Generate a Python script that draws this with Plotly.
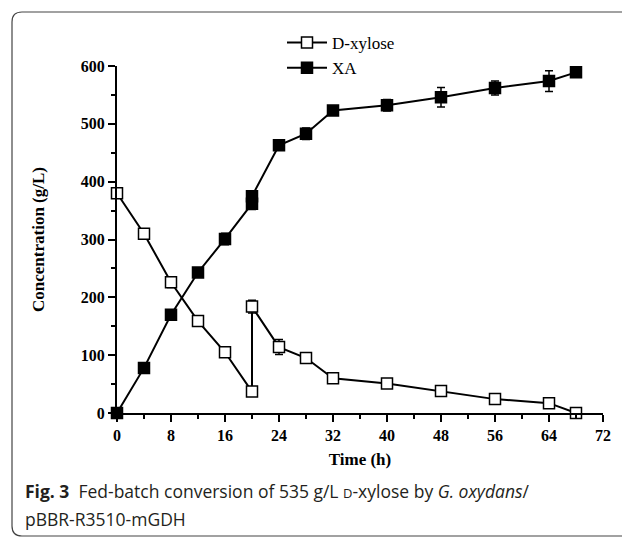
import plotly.graph_objects as go

# time points (h) and measured values (g/L)
time_xylose = [0, 4, 8, 12, 16, 20, 20, 24, 28, 32, 40, 48, 56, 64, 68]
xylose = [380, 310, 226, 159, 105, 37, 184, 114, 95, 60, 51, 38, 24, 17, 0]
xylose_err = [0, 8, 9, 3, 5, 7, 11, 13, 8, 5, 7, 6, 6, 7, 0]

time_xa = [0, 4, 8, 12, 16, 20, 20, 24, 28, 32, 40, 48, 56, 64, 68]
xa = [0, 78, 170, 243, 301, 362, 375, 463, 483, 523, 532, 546, 562, 574, 589]
xa_err = [0, 3, 5, 5, 10, 10, 8, 8, 10, 5, 10, 17, 12, 18, 8]

# plot area in pixels (622 x 537 canvas)
L, R, T, B = 117, 19, 66, 124
W, H = 622 - L - R, 537 - T - B

SERIF = "Liberation Serif"


def px_x(p):
    return (p - L) / W


def px_y(p):
    return (537 - B - p) / H


fig = go.Figure()

fig.add_trace(
    go.Scatter(
        name="D-xylose",
        x=time_xylose,
        y=xylose,
        mode="lines+markers",
        line=dict(color="black", width=2),
        marker=dict(symbol="square", size=11, color="white",
                    line=dict(color="black", width=1.5)),
        error_y=dict(type="data", array=xylose_err, color="black",
                     thickness=1.5, width=4),
        cliponaxis=False,
    )
)
fig.add_trace(
    go.Scatter(
        name="XA",
        x=time_xa,
        y=xa,
        mode="lines+markers",
        line=dict(color="black", width=2),
        marker=dict(symbol="square", size=11, color="black",
                    line=dict(color="black", width=1.5)),
        error_y=dict(type="data", array=xa_err, color="black",
                     thickness=1.5, width=4),
        cliponaxis=False,
    )
)

# rounded frame around figure + caption
x0, x1 = px_x(12), px_x(660)
y0, y1 = px_y(536), px_y(12)
rx, ry = 10 / W, 10 / H
frame = (
    f"M {x0 + rx},{y1} L {x1 - rx},{y1} Q {x1},{y1} {x1},{y1 - ry} "
    f"L {x1},{y0 + ry} Q {x1},{y0} {x1 - rx},{y0} "
    f"L {x0 + rx},{y0} Q {x0},{y0} {x0},{y0 + ry} "
    f"L {x0},{y1 - ry} Q {x0},{y1} {x0 + rx},{y1} Z"
)
fig.add_shape(type="path", path=frame, xref="paper", yref="paper",
              line=dict(color="#444", width=1.2))

cap_font = dict(family="Open Sans", size=17.5, color="#231f20")
fig.add_annotation(
    text="<b>Fig. 3</b>\u00a0\u00a0Fed-batch conversion of 535 g/L "
         "<span style='font-size:13px'>D</span>-xylose by <i>G. oxydans</i>/",
    xref="paper", yref="paper", x=px_x(23), y=px_y(491),
    xanchor="left", yanchor="middle", showarrow=False, font=cap_font,
)
fig.add_annotation(
    text="pBBR-R3510-mGDH",
    xref="paper", yref="paper", x=px_x(23), y=px_y(519),
    xanchor="left", yanchor="middle", showarrow=False, font=cap_font,
)

axis_common = dict(
    showline=True, linecolor="black", linewidth=2,
    ticks="outside", ticklen=7, tickwidth=2, tickcolor="black",
    showgrid=False, zeroline=False,
    tickfont=dict(family=SERIF, size=16, color="black", weight="bold"),
)

fig.update_layout(
    width=622,
    height=537,
    margin=dict(l=L, r=R, t=T, b=B),
    paper_bgcolor="white",
    plot_bgcolor="white",
    font=dict(family=SERIF, color="black"),
    xaxis=dict(
        **axis_common,
        range=[0, 72], dtick=8, tick0=0,
        minor=dict(dtick=4, ticks="outside", ticklen=4, tickwidth=2, tickcolor="black"),
        title=dict(text="<b>Time (h)</b>", font=dict(family=SERIF, size=17), standoff=10),
    ),
    yaxis=dict(
        **axis_common,
        range=[0, 600], dtick=100, tick0=0,
        minor=dict(dtick=50, ticks="outside", ticklen=4, tickwidth=2, tickcolor="black"),
        title=dict(text="<b>Concentration (g/L)</b>", font=dict(family=SERIF, size=17), standoff=32),
    ),
    legend=dict(
        x=px_x(282), y=px_y(25), xanchor="left", yanchor="top",
        bgcolor="rgba(0,0,0,0)", font=dict(family=SERIF, size=17, color="black"),
        itemwidth=40, tracegroupgap=0,
    ),
    showlegend=True,
)

fig.write_html("out.html", config={"displayModeBar": False},
               post_script="document.body.style.margin='0';")
